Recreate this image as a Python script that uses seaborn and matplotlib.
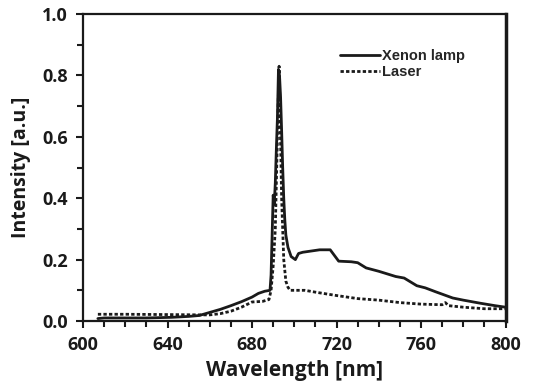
import matplotlib
matplotlib.use("Agg")
import matplotlib.pyplot as plt
from matplotlib.ticker import MultipleLocator
import seaborn as sns
import numpy as np

xenon_wl = [607, 610, 620, 630, 642, 650, 655, 660, 665, 670, 675, 680, 683, 686, 688.5, 689, 690, 690.5, 691, 691.5, 692, 692.5, 693, 693.5, 694, 694.5, 695, 695.5, 696, 697, 698.5, 700.5, 702, 704, 708, 712, 717, 721, 727, 730, 734, 740, 748, 752, 758, 762, 767, 771, 775, 780, 788, 795, 800]
xenon_int = [0.008, 0.01, 0.01, 0.01, 0.012, 0.015, 0.018, 0.028, 0.038, 0.05, 0.063, 0.078, 0.09, 0.097, 0.1, 0.15, 0.41, 0.38, 0.45, 0.56, 0.66, 0.82, 0.80, 0.73, 0.62, 0.5, 0.4, 0.33, 0.28, 0.24, 0.21, 0.2, 0.22, 0.224, 0.228, 0.232, 0.232, 0.195, 0.193, 0.19, 0.173, 0.162, 0.145, 0.14, 0.115, 0.108, 0.095, 0.085, 0.075, 0.068, 0.058, 0.05, 0.045]

laser_wl = [607, 620, 640, 655, 660, 665, 670, 675, 680, 685, 688, 689, 690, 691, 691.5, 692, 692.5, 692.8, 693.2, 693.6, 694, 694.5, 695, 696, 697, 698, 700, 705, 710, 720, 730, 740, 750, 760, 770, 771.5, 773, 780, 790, 800]
laser_int = [0.022, 0.022, 0.021, 0.02, 0.02, 0.024, 0.032, 0.045, 0.062, 0.064, 0.07, 0.1, 0.18, 0.3, 0.45, 0.6, 0.75, 0.83, 0.7, 0.55, 0.4, 0.3, 0.2, 0.13, 0.11, 0.1, 0.1, 0.1, 0.094, 0.083, 0.073, 0.068, 0.06, 0.055, 0.053, 0.06, 0.05, 0.045, 0.04, 0.04]

sns.set_theme(style="ticks")
plt.rcParams['font.family'] = ['Open Sans', 'DejaVu Sans']

fig = plt.figure(figsize=(5.43, 3.91), dpi=100)
ax = fig.add_axes([0.153, 0.179, 0.778, 0.785])

sns.lineplot(x=xenon_wl, y=xenon_int, ax=ax, color="#1a1a1a", linewidth=2.0,
             label="Xenon lamp", estimator=None, sort=False)
sns.lineplot(x=laser_wl, y=laser_int, ax=ax, color="#1a1a1a", linewidth=2.0,
             linestyle=(0, (1.2, 0.8)), label="Laser", estimator=None, sort=False)

ax.set_xlim(600, 800)
ax.set_ylim(0, 1.0)
ax.xaxis.set_major_locator(MultipleLocator(40))
ax.xaxis.set_minor_locator(MultipleLocator(10))
ax.yaxis.set_major_locator(MultipleLocator(0.2))
ax.yaxis.set_minor_locator(MultipleLocator(0.1))
ax.yaxis.set_major_formatter(matplotlib.ticker.FormatStrFormatter('%.1f'))

ax.tick_params(axis='both', which='both', direction='out', color='#1a1a1a', width=1.5)
ax.tick_params(axis='both', which='major', length=5, labelsize=13, pad=6)
ax.tick_params(axis='both', which='minor', length=4)
for lab in ax.get_xticklabels() + ax.get_yticklabels():
    lab.set_fontweight('bold')
    lab.set_color('#1a1a1a')

for side in ['top', 'right', 'left', 'bottom']:
    ax.spines[side].set_visible(True)
    ax.spines[side].set_linewidth(1.6)
    ax.spines[side].set_color('#1a1a1a')
ax.spines['right'].set_linewidth(2.5)

ax.set_xlabel("Wavelength [nm]", fontsize=15, fontweight='bold', color='#1a1a1a', labelpad=4)
ax.set_ylabel("Intensity [a.u.]", fontsize=14, fontweight='bold', color='#1a1a1a', labelpad=8)

leg = ax.legend(loc='upper right', bbox_to_anchor=(0.935, 0.93), frameon=False,
                handlelength=2.8, handletextpad=0.1, labelspacing=0.15,
                prop={'family': 'Liberation Sans', 'weight': 'bold', 'size': 10.5})

fig.savefig("out.png", dpi=100)
